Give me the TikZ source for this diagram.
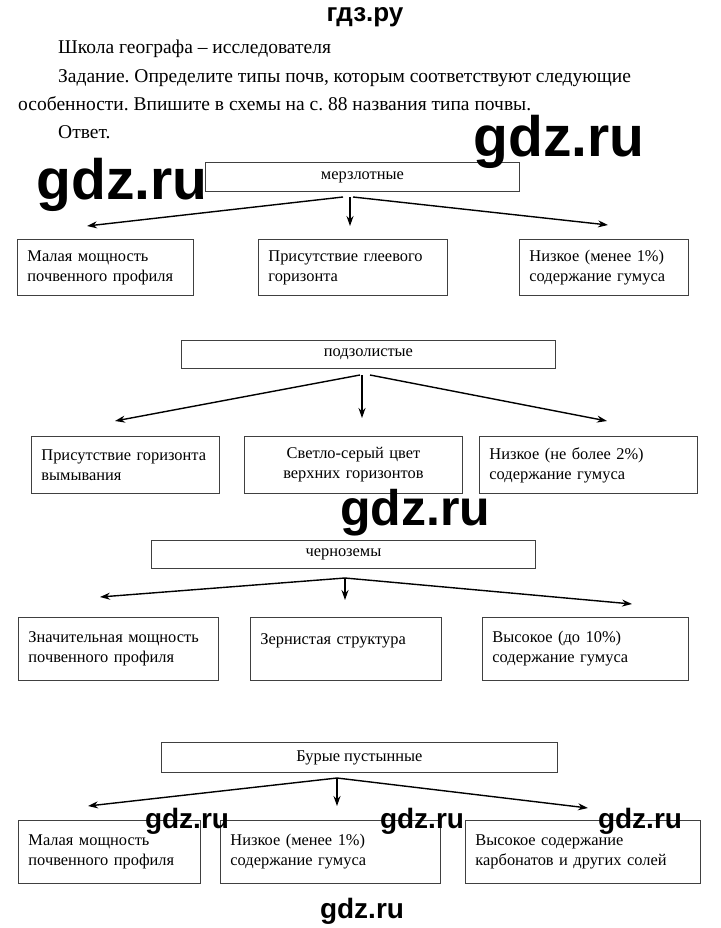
\documentclass[tikz,border=0pt]{standalone}
\usepackage{fontspec}
\setmainfont{Liberation Serif}
\newfontfamily\wmfont{Liberation Sans}
\usetikzlibrary{arrows.meta}
\frenchspacing
\tikzset{
  box/.style={draw=black!75, line width=0.9pt, rectangle, inner sep=0pt},
  head/.style={box, anchor=north west, font=\fontsize{16.4}{18}\selectfont},
  item/.style={box, anchor=north west, align=left, inner xsep=10pt,
    font=\fontsize{16.4}{20}\selectfont},
  arr/.style={-{Stealth[length=10pt,width=7pt]}, line width=1.4pt},
  body/.style={anchor=base west, inner sep=0pt, font=\fontsize{19.5}{22}\selectfont},
  wm/.style={font=\wmfont\bfseries, inner sep=0pt, anchor=base}
}
\begin{document}
\begin{tikzpicture}[x=1pt,y=-1pt]
\useasboundingbox[fill=white] (0,0) rectangle (720,928);

% header text
\node[wm, text height=14pt, font=\wmfont\bfseries\fontsize{26}{28}\selectfont] (t0) at (365,22) {гдз.ру};
\node[body] (t1) at (58,54) {Школа географа – исследователя};
\node[body] (t2) at (58,83) {Задание. Определите типы почв, которым соответствуют следующие};
\node[body] (t3) at (18,111) {особенности. Впишите в схемы на с. 88 названия типа почвы.};
\node[body] (t4) at (58,139) {Ответ.};

% ---------- section 1
\node[head, minimum width=314pt, minimum height=29pt] (h1) at (205,162) {мерзлотные};
\coordinate (o1l) at (343,197);
\coordinate (o1m) at (350,197);
\coordinate (o1r) at (353,197);
\coordinate (p1a) at (87,226);
\coordinate (p1b) at (350,226);
\coordinate (p1c) at (608,225);
\draw[arr] (o1l) -- (p1a);
\draw[arr] (o1m) -- (p1b);
\draw[arr] (o1r) -- (p1c);
\node[item, text width=156pt, minimum height=56pt] (a1) at (17,239) {Малая мощность\\почвенного профиля};
\node[item, text width=169pt, minimum height=56pt] (b1) at (258,239) {Присутствие глеевого\\горизонта};
\node[item, text width=149pt, minimum height=56pt] (c1) at (519,239) {Низкое (менее 1\%)\\содержание гумуса};

% ---------- section 2
\node[head, minimum width=374pt, minimum height=28pt] (h2) at (181,340) {подзолистые};
\coordinate (o2l) at (360,375);
\coordinate (o2m) at (362,375);
\coordinate (o2r) at (370,375);
\coordinate (p2a) at (115,421);
\coordinate (p2b) at (362,418);
\coordinate (p2c) at (607,421);
\draw[arr] (o2l) -- (p2a);
\draw[arr] (o2m) -- (p2b);
\draw[arr] (o2r) -- (p2c);
\node[item, text width=168pt, minimum height=57pt] (a2) at (31,436) {Присутствие горизонта\\вымывания};
\node[item, text width=198pt, minimum height=57pt, align=center] (b2) at (244,436) {Светло-серый цвет\\верхних горизонтов};
\node[item, text width=198pt, minimum height=57pt] (c2) at (479,436) {Низкое (не более 2\%)\\содержание гумуса};

% ---------- section 3
\node[head, minimum width=384pt, minimum height=28pt] (h3) at (151,540) {черноземы};
\coordinate (o3) at (345,578);
\coordinate (p3a) at (100,597);
\coordinate (p3b) at (345,600);
\coordinate (p3c) at (632,604);
\draw[arr] (o3) -- (p3a);
\draw[arr] (o3) -- (p3b);
\draw[arr] (o3) -- (p3c);
\node[item, text width=180pt, minimum height=63pt] (a3) at (18,617) {Значительная мощность\\почвенного профиля};
\node[item, text width=171pt, minimum height=63pt] (b3) at (250,617) {Зернистая структура\\\mbox{}};
\node[item, text width=186pt, minimum height=63pt] (c3) at (482,617) {Высокое (до 10\%)\\содержание гумуса};

% ---------- section 4
\node[head, minimum width=396pt, minimum height=30pt] (h4) at (161,742) {Бурые пустынные};
\coordinate (o4) at (337,778);
\coordinate (p4a) at (88,806);
\coordinate (p4b) at (337,806);
\coordinate (p4c) at (588,808);
\draw[arr] (o4) -- (p4a);
\draw[arr] (o4) -- (p4b);
\draw[arr] (o4) -- (p4c);
\node[item, text width=162pt, minimum height=63pt] (a4) at (18,820) {Малая мощность\\почвенного профиля};
\node[item, text width=200pt, minimum height=63pt] (b4) at (220,820) {Низкое (менее 1\%)\\содержание гумуса};
\node[item, text width=215pt, minimum height=63pt] (c4) at (465,820) {Высокое содержание\\карбонатов и других солей};

% ---------- watermarks
\node[wm, font=\wmfont\bfseries\fontsize{57}{60}\selectfont] (w1) at (559,157) {gdz.ru};
\node[wm, font=\wmfont\bfseries\fontsize{57}{60}\selectfont] (w2) at (122,200) {gdz.ru};
\node[wm, font=\wmfont\bfseries\fontsize{50}{52}\selectfont] (w3) at (415,525) {gdz.ru};
\node[wm, font=\wmfont\bfseries\fontsize{28}{30}\selectfont] (w4) at (187,828) {gdz.ru};
\node[wm, font=\wmfont\bfseries\fontsize{28}{30}\selectfont] (w5) at (422,828) {gdz.ru};
\node[wm, font=\wmfont\bfseries\fontsize{28}{30}\selectfont] (w6) at (640,828) {gdz.ru};
\node[wm, font=\wmfont\bfseries\fontsize{28}{30}\selectfont] (w7) at (362,918) {gdz.ru};
\end{tikzpicture}
\end{document}
